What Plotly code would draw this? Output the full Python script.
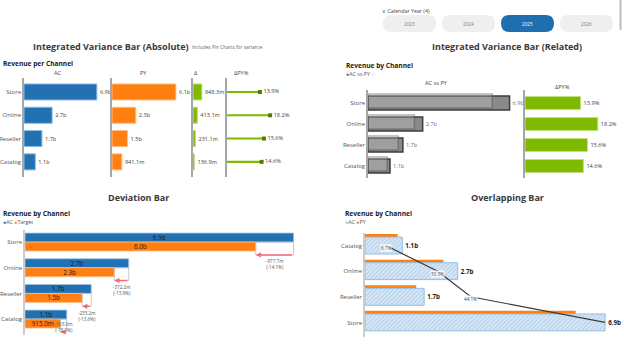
import numpy as np
import plotly.graph_objects as go

W, H = 624, 350

# ---------------- data ----------------
channels = ["Store", "Online", "Reseller", "Catalog"]
ac = [6.94, 2.68, 1.71, 1.078]            # billions
py_vals = [6.09, 2.27, 1.48, 0.9411]      # billions
delta_py = [0.8483, 0.4131, 0.2311, 0.1369]
delta_py_pct = [13.9, 18.2, 15.6, 14.6]
target_dev = [-0.9777, -0.3722, -0.2332, -0.1630]
years = ["2023", "2024", "2025", "2026"]
selected_year = "2025"

target = [a + d for a, d in zip(ac, target_dev)]
dev_pct = [d / a * 100 for a, d in zip(ac, target_dev)]

order = sorted(range(len(channels)), key=lambda i: channels[i])
ov_cats = [channels[i] for i in order]
ov_ac = [ac[i] for i in order]
ov_py = [py_vals[i] for i in order]
cum_share = list(np.cumsum(ov_ac) / sum(ov_ac) * 100)

pos = list(range(len(channels)))


def fmt(v):
    return f"{v:.1f}b" if abs(v) >= 1 else f"{v * 1000:.1f}m"


# ---------------- style ----------------
FONT = "Open Sans"
BLUE = "#2271B3"
ORANGE = "#FF7F10"
GREEN = "#7FBA00"
TXT = "#333333"


def xdom(x0, x1):
    return [x0 / W, x1 / W]


def ydom(top, bottom):
    return [1 - bottom / H, 1 - top / H]


def fx(x):
    return x / W


def fy(y):
    return 1 - y / H


layout = dict(
    width=W, height=H, margin=dict(l=0, r=0, t=0, b=0),
    paper_bgcolor="white", plot_bgcolor="rgba(0,0,0,0)", showlegend=False,
    barmode="overlay", font=dict(family=FONT, color=TXT),
)

xbase = dict(visible=False, fixedrange=True)


def xax(x0, x1, scale, anchor):
    # axis starting at pixel x0, extended to x1, with `scale` pixels per unit
    return dict(xbase, domain=xdom(x0, x1), range=[0, (x1 - x0) / scale], anchor=anchor)


def yax(anchor, dom, rng, labels=None, linecolor="#A6A6A6"):
    d = dict(anchor=anchor, domain=dom, range=rng, showline=True, linecolor=linecolor,
             linewidth=1.5, showgrid=False, zeroline=False, ticks="", fixedrange=True,
             tickvals=pos)
    if labels:
        d.update(ticktext=labels, tickfont=dict(size=6, color="#555"))
    else:
        d.update(showticklabels=False)
    return d


traces = []
annotations = []
shapes = []

TITLE_FONT = dict(size=9, color="#3A3A3A", weight=700)
SUB_FONT = dict(size=6.6, color="#1A1A1A", weight=700)
VAL = 5.6

# ========== Top-left: Integrated Variance Bar (Absolute) ==========
s1 = 10.5  # px per billion
ytl = ydom(78, 177)
rtl = [3.65, -0.6]
layout["xaxis"] = xax(24, 160, s1, "y")
layout["yaxis"] = yax("x", ytl, rtl, channels)
layout["xaxis2"] = xax(112, 240, s1, "y2")
layout["yaxis2"] = yax("x2", ytl, rtl)
layout["xaxis3"] = xax(193, 300, s1, "y3")
layout["yaxis3"] = yax("x3", ytl, rtl)
layout["xaxis4"] = xax(227, 320, 2.37, "y4")
layout["yaxis4"] = yax("x4", ytl, rtl)

bw = 0.69
lab = dict(textposition="outside", constraintext="none", textfont=dict(size=VAL, color="#444"), cliponaxis=False)
traces.append(go.Bar(x=ac, y=pos, orientation="h", xaxis="x", yaxis="y", width=bw, offset=-bw / 2,
                     marker=dict(color=BLUE, line=dict(color="#8DBCE3", width=1)),
                     text=[fmt(v) for v in ac], **lab))
traces.append(go.Bar(x=py_vals, y=pos, orientation="h", xaxis="x2", yaxis="y2", width=bw, offset=-bw / 2,
                     marker=dict(color=ORANGE, line=dict(color="#FFC08A", width=1)),
                     text=[fmt(v) for v in py_vals], **lab))
traces.append(go.Bar(x=delta_py, y=pos, orientation="h", xaxis="x3", yaxis="y3", width=bw, offset=-bw / 2,
                     marker=dict(color=GREEN, line=dict(color="#C2E080", width=1)),
                     text=[fmt(v) for v in delta_py], **lab))
traces.append(go.Bar(x=delta_py_pct, y=pos, orientation="h", xaxis="x4", yaxis="y4", width=0.09, offset=-0.045,
                     marker=dict(color=GREEN, line=dict(width=0))))
traces.append(go.Scatter(x=delta_py_pct, y=pos, xaxis="x4", yaxis="y4", mode="markers+text",
                         marker=dict(symbol="square", size=4, color="#4E7F00"),
                         text=[f"{v:.1f}%" for v in delta_py_pct], textposition="middle right",
                         textfont=dict(size=VAL, color="#444"), cliponaxis=False))

annotations += [
    dict(x=fx(31), y=fy(46), text="Integrated Variance Bar (Absolute)", xanchor="left", font=TITLE_FONT),
    dict(x=fx(190), y=fy(47.5), text="Includes Pin Charts for variance", xanchor="left",
         font=dict(size=4.8, color="#666")),
    dict(x=fx(1), y=fy(64), text="Revenue per Channel", xanchor="left", font=SUB_FONT),
    dict(x=fx(58), y=fy(73), text="AC", font=dict(size=5.6, color="#444")),
    dict(x=fx(143), y=fy(73), text="PY", font=dict(size=5.6, color="#444")),
    dict(x=fx(196), y=fy(73), text="Δ", font=dict(size=5.6, color="#444")),
    dict(x=fx(241), y=fy(73), text="ΔPY%", font=dict(size=5.6, color="#444")),
]

# ========== Top-right: slicer + Integrated Variance Bar (Related) ==========
annotations.append(dict(x=fx(380), y=fy(11), text="∨ Calendar Year (4)", xanchor="left",
                        font=dict(size=5.3, color="#444")))


def rrect(x0, y0, x1, y1, r):
    pts = [("M", [(x0 + r, y0)]), ("L", [(x1 - r, y0)]), ("Q", [(x1, y0), (x1, y0 + r)]),
           ("L", [(x1, y1 - r)]), ("Q", [(x1, y1), (x1 - r, y1)]), ("L", [(x0 + r, y1)]),
           ("Q", [(x0, y1), (x0, y1 - r)]), ("L", [(x0, y0 + r)]), ("Q", [(x0, y0), (x0 + r, y0)])]
    s = ""
    for cmd, pp in pts:
        s += cmd + " " + " ".join(f"{fx(a):.5f},{fy(b):.5f}" for a, b in pp) + " "
    return s + "Z"


bx0, bwid, bstep = 383, 53, 59
for k, yr in enumerate(years):
    x0 = bx0 + k * bstep
    sel = yr == selected_year
    shapes.append(dict(type="path", path=rrect(x0, 15, x0 + bwid, 32, 8.5), xref="paper", yref="paper",
                       fillcolor="#1F6EB0" if sel else "#EFEFEF", line=dict(width=0)))
    annotations.append(dict(x=fx(x0 + bwid / 2), y=fy(23.5), text=yr,
                            font=dict(size=4.6, color="white" if sel else "#777")))
shapes.append(dict(type="line", xref="paper", yref="paper", x0=fx(620.5), x1=fx(620.5), y0=fy(0), y1=fy(30),
                   line=dict(color="#BBBBBB", width=2)))

s2 = 20.4
ytr = ydom(90, 178)
rtr = [3.57, -0.62]
layout["xaxis5"] = xax(368, 560, s2, "y5")
layout["yaxis5"] = yax("x5", ytr, rtr, channels)
layout["xaxis6"] = xax(525, 624, 4.0, "y6")
layout["yaxis6"] = yax("x6", ytr, rtr)

bw2 = 0.67
traces.append(go.Bar(x=ac, y=pos, orientation="h", xaxis="x5", yaxis="y5", width=bw2, offset=-bw2 / 2,
                     marker=dict(color="#8A8A8A", line=dict(color="#3C3C3C", width=1.5)),
                     text=[fmt(v) for v in ac], textposition="outside", constraintext="none",
                     textfont=dict(size=VAL, color="#6A7590"), cliponaxis=False))
traces.append(go.Bar(x=py_vals, y=pos, orientation="h", xaxis="x5", yaxis="y5", width=bw2, offset=-bw2 / 2 - 0.1,
                     marker=dict(color="rgba(255,255,255,0.18)", line=dict(color="rgba(80,80,80,0.45)", width=1.5))))
bw3 = 0.62
traces.append(go.Bar(x=delta_py_pct, y=pos, orientation="h", xaxis="x6", yaxis="y6", width=bw3, offset=-bw3 / 2,
                     marker=dict(color=GREEN, line=dict(color="#C2E080", width=1)),
                     text=[f"{v:.1f}%" for v in delta_py_pct], textposition="outside", constraintext="none",
                     textfont=dict(size=VAL, color="#444"), cliponaxis=False))

annotations += [
    dict(x=fx(507), y=fy(46), text="Integrated Variance Bar (Related)", font=TITLE_FONT),
    dict(x=fx(344), y=fy(65), text="Revenue by Channel", xanchor="left", font=SUB_FONT),
    dict(x=fx(344), y=fy(74), text="<span style='color:#666'>●</span>AC vs PY <span style='color:#AAA'>○</span>",
         xanchor="left", font=dict(size=5.3, color="#555")),
    dict(x=fx(436), y=fy(83), text="AC vs PY", font=dict(size=5.6, color="#444")),
    dict(x=fx(562), y=fy(87), text="ΔPY%", font=dict(size=5.6, color="#444")),
]

# ========== Bottom-left: Deviation Bar ==========
s3 = 38.7
ybl = ydom(230, 335)
rbl = [3.62, -0.47]
layout["xaxis7"] = xax(25, 305, s3, "y7")
layout["yaxis7"] = yax("x7", ybl, rbl, channels, linecolor="#CCCCCC")

bw4 = 0.35
traces.append(go.Bar(x=ac, y=pos, orientation="h", xaxis="x7", yaxis="y7", width=bw4, offset=-bw4,
                     marker=dict(color=BLUE, line=dict(color="#9CC4E8", width=0.8)),
                     text=[fmt(v) for v in ac], textposition="inside", insidetextanchor="middle",
                     constraintext="none", textfont=dict(size=6.3, color="#1A1A1A")))
traces.append(go.Bar(x=target, y=pos, orientation="h", xaxis="x7", yaxis="y7", width=bw4, offset=0,
                     marker=dict(color=ORANGE, line=dict(color="#FFC08A", width=0.8)),
                     text=[fmt(v) for v in target], textposition="inside", insidetextanchor="middle",
                     constraintext="none", textfont=dict(size=6.3, color="#1A1A1A")))

for i in pos:
    shapes.append(dict(type="rect", xref="x7", yref="y7", x0=target[i], x1=ac[i], y0=i, y1=i + 0.5,
                       line=dict(color="#BDBDBD", width=0.8), fillcolor="rgba(0,0,0,0)"))
    annotations.append(dict(x=target[i], y=i + 0.5, ax=ac[i], ay=i + 0.5, xref="x7", yref="y7",
                            axref="x7", ayref="y7", text="", showarrow=True, arrowhead=2,
                            arrowsize=0.7, arrowwidth=1.5, arrowcolor="#F26B7A", standoff=0))
    below = i < len(pos) - 1
    annotations.append(dict(x=(target[i] + ac[i]) / 2, y=(i + 0.56) if below else (i - 0.02),
                            xref="x7", yref="y7", yanchor="top",
                            text=f"{fmt(target_dev[i])}<br>({dev_pct[i]:.1f}%)",
                            font=dict(size=4.6, color="#555")))

annotations += [
    dict(x=fx(138), y=fy(197), text="Deviation Bar", font=TITLE_FONT),
    dict(x=fx(1), y=fy(213), text="Revenue by Channel", xanchor="left", font=SUB_FONT),
    dict(x=fx(1), y=fy(222), text=f"<span style='color:{BLUE}'>●</span>AC <span style='color:{ORANGE}'>●</span>Target",
         xanchor="left", font=dict(size=5.3, color="#555")),
]

# ========== Bottom-right: Overlapping Bar ==========
s4 = 34.6
ybr = ydom(233, 337)
rbr = [3.57, -0.49]
xr8 = (624 - 365) / s4
layout["xaxis8"] = xax(365, 624, s4, "y8")
layout["yaxis8"] = yax("x8", ybr, rbr, ov_cats, linecolor="#CCCCCC")
layout["xaxis9"] = dict(xbase, overlaying="x8", range=[0, 100 * xr8 / max(ov_ac)], anchor="y8")

traces.append(go.Bar(x=ov_py, y=pos, orientation="h", xaxis="x8", yaxis="y8", width=0.12, offset=-0.45,
                     marker=dict(color=ORANGE, line=dict(width=0))))
traces.append(go.Bar(x=ov_ac, y=pos, orientation="h", xaxis="x8", yaxis="y8", width=0.66, offset=-0.33,
                     marker=dict(color="#C7DCF0", line=dict(color="#94BDE5", width=1),
                                 pattern=dict(shape="/", fgcolor="#86B3DE", bgcolor="#D9E8F6",
                                              size=3, solidity=0.35)),
                     text=[f"<b>{fmt(v)}</b>" for v in ov_ac], textposition="outside", constraintext="none",
                     textfont=dict(size=6.2, color="#222"), cliponaxis=False))
traces.append(go.Scatter(x=cum_share, y=pos, xaxis="x9", yaxis="y8", mode="lines",
                         line=dict(color="#3A3A3A", width=1.2), cliponaxis=False))
for i in pos[:-1]:
    annotations.append(dict(x=cum_share[i], y=pos[i] + 0.1, xref="x9", yref="y8", text=f"{cum_share[i]:.1f}%",
                            font=dict(size=4.6, color="#444"), bgcolor="rgba(255,255,255,0.85)",
                            borderpad=0))

annotations += [
    dict(x=fx(507), y=fy(197), text="Overlapping Bar", font=TITLE_FONT),
    dict(x=fx(343), y=fy(213), text="Revenue by Channel", xanchor="left", font=SUB_FONT),
    dict(x=fx(343), y=fy(222), text=f"<span style='color:#9CC3E6'>●</span>AC <span style='color:{ORANGE}'>●</span>PY",
         xanchor="left", font=dict(size=5.3, color="#555")),
]

for a in annotations:
    a.setdefault("xref", "paper")
    a.setdefault("yref", "paper")
    a.setdefault("showarrow", False)
    a.setdefault("xanchor", "center")
    a.setdefault("yanchor", "middle")

layout["annotations"] = annotations
layout["shapes"] = shapes

fig = go.Figure(data=traces, layout=layout)
fig.write_html("out.html")
